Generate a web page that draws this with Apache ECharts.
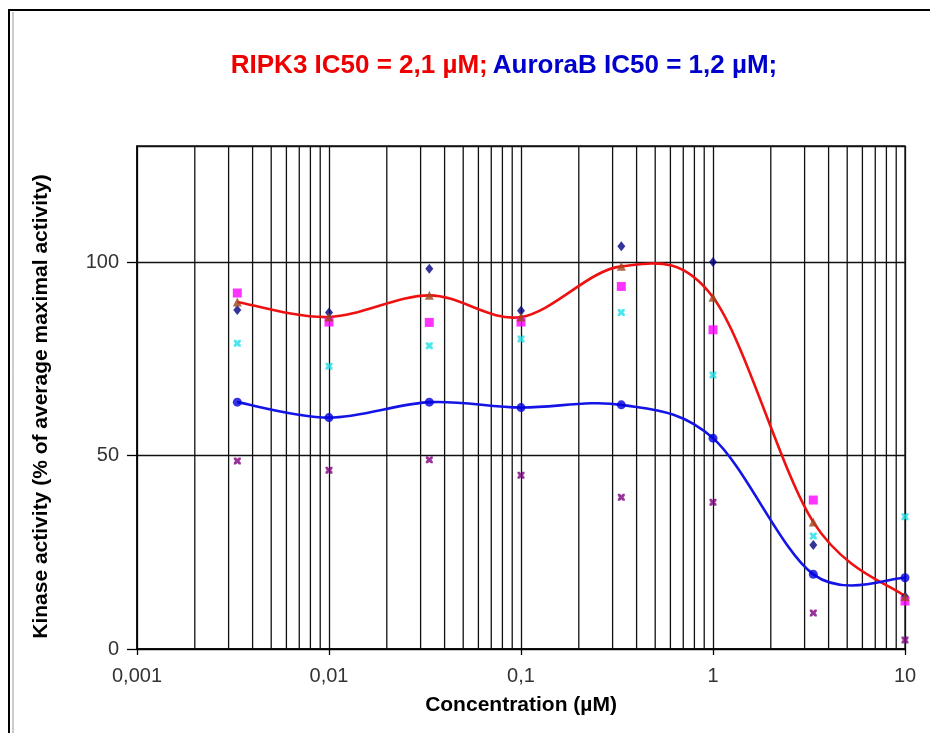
<!DOCTYPE html>
<html>
<head>
<meta charset="utf-8">
<script src="https://cdn.jsdelivr.net/npm/echarts@6/dist/echarts.min.js"></script>
<style>
html,body{margin:0;padding:0;background:#fff;}
#chart{width:930px;height:733px;}
</style>
</head>
<body>
<div id="chart"></div>
<script>
// Concentrations (µM)
var concentrations = [0.00333, 0.01, 0.0333, 0.1, 0.333, 1, 3.33, 10];
// RIPK3 replicates and mean (% of average maximal activity)
var ripk3Rep1 = [87.6, 87.0, 98.3, 87.4, 104.1, 100.0, 26.9, 13.6];   // navy diamonds
var ripk3Rep2 = [92.0, 84.5, 84.4, 84.5, 93.7, 82.5, 38.5, 12.4];     // magenta squares
var ripk3Rep3 = [79.0, 73.1, 78.4, 80.1, 87.0, 70.8, 29.2, 34.2];     // cyan crosses
var ripk3Mean = [89.7, 85.8, 91.4, 85.8, 98.9, 90.9, 32.8, 13.6];     // brown triangles (red curve)
// AuroraB
var auroraMean = [63.8, 59.8, 63.8, 62.4, 63.1, 54.5, 19.3, 18.4];    // blue circles (blue curve)
var auroraRep = [48.6, 46.2, 48.9, 44.9, 39.2, 37.9, 9.3, 2.3];       // purple crosses
// Axis ticks
var xTicks = [0.001, 0.01, 0.1, 1, 10];
var yTicks = [0, 50, 100];
var yMax = 130;

function pairs(vals){ return concentrations.map(function(c,i){ return [c, vals[i]]; }); }

// minor log gridlines (2..9 within each decade)
var minorGrid = [];
for (var d = 0; d < xTicks.length - 1; d++) {
  for (var k = 2; k <= 9; k++) minorGrid.push([+(xTicks[d] * k).toPrecision(3), 0]);
}

var crossPath = 'path://M0,0 L3,0 L5,2 L7,0 L10,0 L10,3 L8,5 L10,7 L10,10 L7,10 L5,8 L3,10 L0,10 L0,7 L2,5 L0,3 Z';
var FONT = '"Liberation Sans", Arial, sans-serif';
var GRID_COLOR = '#111';
var GRID_W = 1.3;

// Excel-like smoothed curve (Catmull-Rom through the points, drawn via the axes' scales)
function curveSeries(vals, color){
  return {
    type: 'custom', silent: true, z: 3, clip: true,
    data: pairs(vals),
    renderItem: function(params, api){
      var i = params.dataIndex, n = concentrations.length;
      if (i >= n - 1) return null;
      var P = function(j){ j = Math.max(0, Math.min(n - 1, j)); return api.coord([concentrations[j], vals[j]]); };
      var p0 = P(i - 1), p1 = P(i), p2 = P(i + 1), p3 = P(i + 2);
      var c1 = [p1[0] + (p2[0] - p0[0]) / 6, p1[1] + (p2[1] - p0[1]) / 6];
      var c2 = [p2[0] - (p3[0] - p1[0]) / 6, p2[1] - (p3[1] - p1[1]) / 6];
      return {
        type: 'bezierCurve',
        shape: {x1: p1[0], y1: p1[1], x2: p2[0], y2: p2[1], cpx1: c1[0], cpy1: c1[1], cpx2: c2[0], cpy2: c2[1]},
        style: {stroke: color, lineWidth: 2.6, fill: null}
      };
    }
  };
}

var chart = echarts.init(document.getElementById('chart'), null, {renderer:'canvas'});
chart.setOption({
  backgroundColor: '#fff',
  animation: false,
  title: {
    text: '{r|RIPK3 IC50 = 2,1 µM;} {b|AuroraB IC50 = 1,2 µM;}',
    left: 499, top: 48, textAlign: 'center',
    textStyle: {
      rich: {
        r: {color: '#ee0000', fontSize: 26, fontWeight: 'bold', fontFamily: FONT},
        b: {color: '#0000cc', fontSize: 26, fontWeight: 'bold', fontFamily: FONT}
      }
    }
  },
  graphic: [
    {type:'rect', silent:true, shape:{x:9, y:10, width:960, height:760}, style:{fill:'none', stroke:'#000', lineWidth:2}},
    {type:'line', silent:true, shape:{x1:13, y1:12, x2:13, y2:733}, style:{stroke:'#999', lineWidth:1}}
  ],
  grid: {left: 137, right: 25, top: 146, bottom: 84, show: true, borderColor: GRID_COLOR, borderWidth: GRID_W},
  xAxis: {
    type: 'log', logBase: 10, min: xTicks[0], max: xTicks[xTicks.length - 1],
    name: 'Concentration (µM)', nameLocation: 'middle', nameGap: 46,
    nameTextStyle: {fontSize: 21, fontWeight: 'bold', color: '#000', fontFamily: FONT},
    axisLine: {lineStyle: {color: '#000', width: 1.5}},
    axisTick: {show: true, length: 6, lineStyle: {color: '#000', width: 1.3}},
    axisLabel: {fontSize: 20, color: '#333', margin: 17, fontFamily: FONT,
      formatter: function(v){ return String(+v.toPrecision(3)).replace('.', ','); }},
    splitLine: {show: true, lineStyle: {color: GRID_COLOR, width: GRID_W}}
  },
  yAxis: {
    type: 'value', min: 0, max: yMax, interval: 50,
    name: 'Kinase activity (% of average maximal activity)', nameLocation: 'middle', nameGap: 85,
    nameTextStyle: {fontSize: 21, fontWeight: 'bold', color: '#000', fontFamily: FONT, padding: [0, 18, 0, 0]},
    axisLine: {show: true, lineStyle: {color: '#000', width: 1.5}},
    axisTick: {show: true, length: 10, lineStyle: {color: '#000', width: 1.3}},
    axisLabel: {fontSize: 20, color: '#333', margin: 18, fontFamily: FONT, showMaxLabel: false},
    splitLine: {show: true, lineStyle: {color: GRID_COLOR, width: GRID_W}}
  },
  series: [
    {
      type: 'custom', silent: true, z: 1, data: minorGrid,
      renderItem: function(params, api){
        var top = api.coord([api.value(0), yMax]);
        var bot = api.coord([api.value(0), 0]);
        return {type: 'line', shape: {x1: top[0], y1: top[1], x2: bot[0], y2: bot[1]},
          style: {stroke: GRID_COLOR, lineWidth: GRID_W}};
      }
    },
    curveSeries(ripk3Mean, '#ee1111'),
    curveSeries(auroraMean, '#1414e6'),
    {type: 'scatter', name: 'RIPK3 rep1', data: pairs(ripk3Rep1), symbol: 'diamond', symbolSize: [8, 10], itemStyle: {color: '#000080'}, z: 4},
    {type: 'scatter', name: 'RIPK3 rep2', data: pairs(ripk3Rep2), symbol: 'rect', symbolSize: 9, itemStyle: {color: '#ff00ff'}, z: 4},
    {type: 'scatter', name: 'RIPK3 rep3', data: pairs(ripk3Rep3), symbol: crossPath, symbolSize: 7, itemStyle: {color: '#22e0e8'}, z: 4},
    {type: 'scatter', name: 'AuroraB rep', data: pairs(auroraRep), symbol: crossPath, symbolSize: 7, itemStyle: {color: '#800080'}, z: 4},
    {type: 'scatter', name: 'RIPK3 mean', data: pairs(ripk3Mean), symbol: 'triangle', symbolSize: 9, itemStyle: {color: '#a0441c'}, z: 5},
    {type: 'scatter', name: 'AuroraB mean', data: pairs(auroraMean), symbol: 'circle', symbolSize: 9, itemStyle: {color: '#0000dd'}, z: 5}
  ]
});
</script>
</body>
</html>
